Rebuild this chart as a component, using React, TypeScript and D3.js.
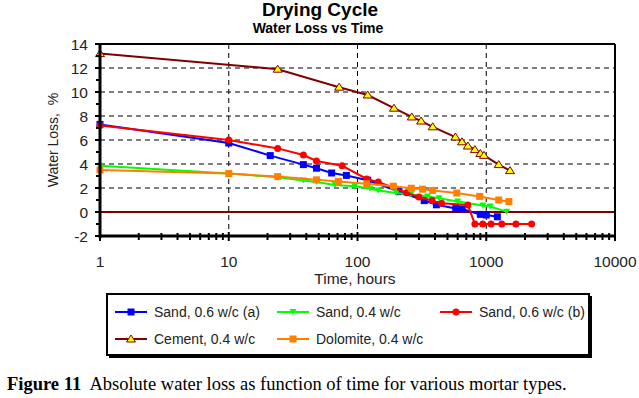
import React from 'react'
import * as d3 from 'd3'

// [hours, water loss %]
const sandA06 = [
  [1, 7.3], [10, 5.75], [21, 4.7], [38, 3.95], [48, 3.65], [63, 3.25], [82, 3.05],
  [120, 2.65], [210, 1.7], [330, 0.95], [410, 0.6], [580, 0.3], [650, 0.25],
  [900, -0.2], [1000, -0.25], [1220, -0.4]
]
const sand04 = [
  [1, 3.85], [10, 3.2], [24, 2.9], [38, 2.62], [48, 2.5], [67, 2.25], [95, 2.15],
  [125, 1.95], [145, 1.8], [200, 1.58], [260, 1.45], [350, 1.3], [430, 1.15],
  [600, 0.88], [940, 0.55], [1070, 0.45], [1440, 0.03]
]
const sandB06 = [
  [1, 7.2], [10, 6.0], [24, 5.3], [38, 4.75], [48, 4.25], [76, 3.85], [118, 2.75],
  [145, 2.5], [240, 1.6], [300, 1.25], [380, 0.95], [450, 0.72], [720, 0.58],
  [816, -1], [940, -1], [1090, -1], [1320, -1], [1700, -1], [2250, -1]
]
const cement04 = [
  [1, 13.2], [24, 11.9], [72, 10.4], [120, 9.75], [192, 8.65], [264, 7.92],
  [312, 7.58], [384, 7.1], [576, 6.25], [648, 5.85], [720, 5.5], [816, 5.2],
  [900, 4.88], [960, 4.72], [1250, 3.95], [1530, 3.45]
]
const dolomite04 = [
  [1, 3.5], [10, 3.2], [24, 2.95], [48, 2.68], [71, 2.55], [118, 2.35], [190, 2.15],
  [262, 1.98], [320, 1.9], [384, 1.8], [590, 1.58], [890, 1.3], [1250, 1.0], [1500, 0.87]
]

const seriesNames = ['Sand, 0.6 w/c (a)', 'Sand, 0.4 w/c', 'Sand, 0.6 w/c (b)', 'Cement, 0.4 w/c', 'Dolomite, 0.4 w/c']
const seriesData = [sandA06, sand04, sandB06, cement04, dolomite04]
const seriesColor = ['#0000ff', '#00ff00', '#ff0000', '#800000', '#ff8000']
const seriesMarker = ['square', 'down', 'circle', 'up', 'square']

const yTicks = [-2, 0, 2, 4, 6, 8, 10, 12, 14]
const yMinor = [-1, 1, 3, 5, 7, 9, 11, 13]
const xTicks = [1, 10, 100, 1000, 10000]

const sans = '"Liberation Sans", Arial, sans-serif'
const serif = '"Liberation Serif", "Times New Roman", serif'

const Marker = ({ kind, cx, cy, color }) => {
  if (kind === 'square') return <rect x={cx - 3.5} y={cy - 3.5} width={7} height={7} fill={color} />
  if (kind === 'circle') return <circle cx={cx} cy={cy} r={3.5} fill={color} />
  if (kind === 'down')
    return <path d={`M${cx - 3.5},${cy - 3}L${cx + 3.5},${cy - 3}L${cx},${cy + 3}Z`} fill={color} />
  return (
    <path
      d={`M${cx},${cy - 4}L${cx + 4.5},${cy + 3}L${cx - 4.5},${cy + 3}Z`}
      fill="#ffff00"
      stroke={color}
      strokeWidth={1}
    />
  )
}

export default function App() {
  const x = d3.scaleLog().domain([1, 10000]).range([100, 615])
  const y = d3.scaleLinear().domain([-2, 14]).range([236, 44])
  const line = d3.line().x(d => x(d[0])).y(d => y(d[1]))

  const xMinor = []
  for (let dec = 1; dec < 10000; dec *= 10) for (let k = 2; k <= 9; k++) xMinor.push(dec * k)

  const legendCols = [115, 277, 440]
  const legendRows = [312, 339]

  return (
    <svg width={639} height={398} style={{ position: 'absolute', left: 0, top: 0, background: '#fff' }}>
      {/* titles */}
      <text x={320} y={16} textAnchor="middle" fontFamily={sans} fontWeight="bold" fontSize={19}>
        Drying Cycle
      </text>
      <text x={318} y={33} textAnchor="middle" fontFamily={sans} fontWeight="bold" fontSize={14}>
        Water Loss vs Time
      </text>

      {/* grid */}
      {yTicks.filter(v => v > -2 && v < 14 && v !== 0).map(v => (
        <line key={'gy' + v} x1={100} x2={615} y1={y(v)} y2={y(v)} stroke="#000" strokeDasharray="5,4" />
      ))}
      {xTicks.slice(1, -1).map(v => (
        <line key={'gx' + v} x1={x(v)} x2={x(v)} y1={44} y2={236} stroke="#000" strokeDasharray="5,4" />
      ))}
      <line x1={100} x2={615} y1={y(0)} y2={y(0)} stroke="#800000" strokeWidth={2} />

      {/* frame */}
      <line x1={100} x2={615} y1={44} y2={44} stroke="#000" strokeWidth={2} />
      <line x1={615} x2={615} y1={44} y2={237} stroke="#000" strokeWidth={2} />

      {/* series */}
      {seriesData.map((data, i) => (
        <g key={'s' + i}>
          <path d={line(data)} fill="none" stroke={seriesColor[i]} strokeWidth={2} />
          {data.map((d, j) => (
            <Marker key={j} kind={seriesMarker[i]} cx={x(d[0])} cy={y(d[1])} color={seriesColor[i]} />
          ))}
        </g>
      ))}

      {/* axes */}
      <line x1={100} x2={100} y1={43} y2={238} stroke="#000" strokeWidth={3} />
      <line x1={99} x2={616} y1={y(-2)} y2={y(-2)} stroke="#000" strokeWidth={3} />
      {yTicks.map(v => (
        <line key={'ty' + v} x1={95} x2={101} y1={y(v)} y2={y(v)} stroke="#000" strokeWidth={2} />
      ))}
      {yMinor.map(v => (
        <line key={'my' + v} x1={96} x2={101} y1={y(v)} y2={y(v)} stroke="#000" strokeWidth={2} />
      ))}
      {xTicks.map(v => (
        <line key={'tx' + v} x1={x(v)} x2={x(v)} y1={y(-2) - 4} y2={y(-2) + 5} stroke="#000" strokeWidth={2} />
      ))}
      {xMinor.map(v => (
        <line key={'mx' + v} x1={x(v)} x2={x(v)} y1={y(-2) - 3} y2={y(-2) + 4} stroke="#000" strokeWidth={2} />
      ))}

      {yTicks.map(v => (
        <text key={'ly' + v} x={88} y={y(v) + 5.5} textAnchor="end" fontFamily={sans} fontSize={15.5} fill="#222">
          {v}
        </text>
      ))}
      {xTicks.map(v => (
        <text key={'lx' + v} x={x(v)} y={267} textAnchor="middle" fontFamily={sans} fontSize={15.5} fill="#222">
          {v}
        </text>
      ))}
      <text x={355} y={284} textAnchor="middle" fontFamily={sans} fontSize={15.5} fill="#222">
        Time, hours
      </text>
      <text
        transform="translate(58,140) rotate(-90)"
        textAnchor="middle"
        fontFamily={sans}
        fontSize={14}
        fill="#222"
        style={{ whiteSpace: 'pre' }}
      >
        {'Water Loss,  %'}
      </text>

      {/* legend */}
      <rect x={109} y={296} width={483} height={62} fill="#000" />
      <rect x={107} y={294} width={482} height={61} fill="#fff" stroke="#000" strokeWidth={2} />
      {seriesNames.map((name, i) => {
        const lx = legendCols[i % 3]
        const ly = legendRows[Math.floor(i / 3)]
        return (
          <g key={'lg' + i}>
            <line x1={lx} x2={lx + 32} y1={ly} y2={ly} stroke={seriesColor[i]} strokeWidth={2} />
            <Marker kind={seriesMarker[i]} cx={lx + 16} cy={ly} color={seriesColor[i]} />
            <text x={lx + 39} y={ly + 5} fontFamily={sans} fontSize={14} fill="#222">
              {name}
            </text>
          </g>
        )
      })}

      {/* caption */}
      <text x={7} y={390} fontFamily={serif} fontSize={18.5} fill="#000" style={{ whiteSpace: 'pre' }}>
        <tspan fontWeight="bold">Figure 11</tspan>
        <tspan>{'  Absolute water loss as function of time for various mortar types.'}</tspan>
      </text>
    </svg>
  )
}
